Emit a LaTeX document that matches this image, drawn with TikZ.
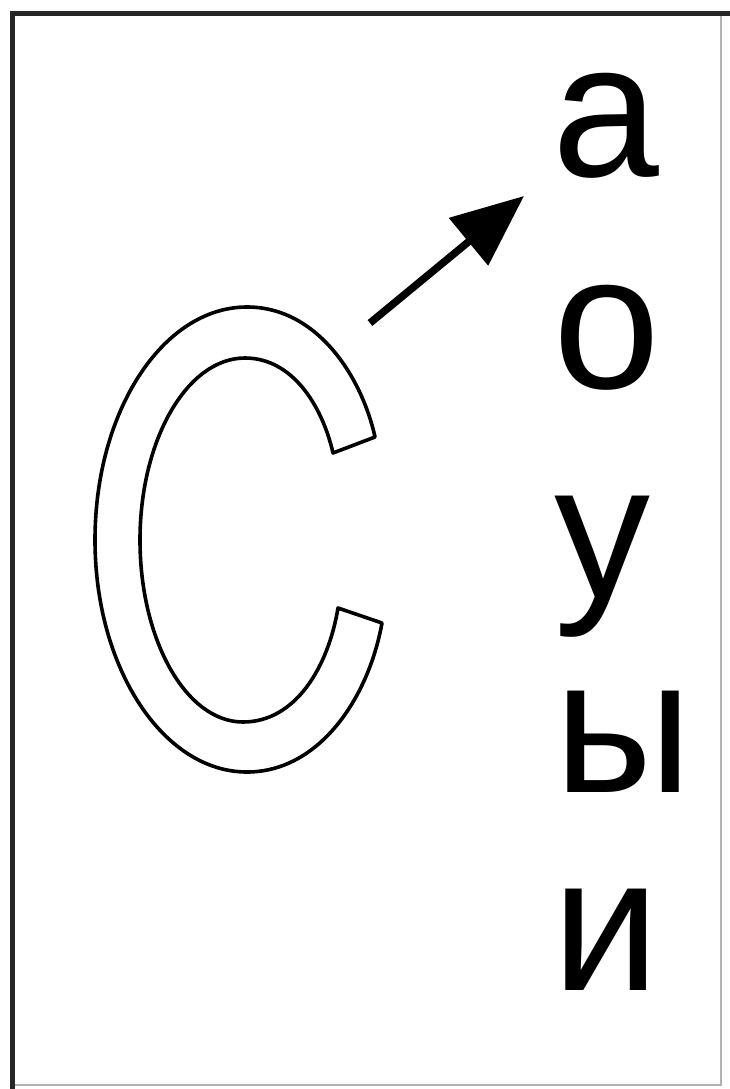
\documentclass[tikz,border=0pt]{standalone}
\usepackage{fontspec}
\setmainfont{Liberation Sans}
\usetikzlibrary{arrows.meta}
\begin{document}
\begin{tikzpicture}[x=1pt,y=-1pt,
  letter/.style={anchor=base,inner sep=0pt,font=\fontsize{192}{192}\selectfont},
  outline/.style={line width=3.6pt,line join=round},
  pointer/.style={line width=7.5pt,-{Triangle[length=72pt,width=60pt]}}]
\useasboundingbox (0,0) rectangle (730,1089);
\fill[white] (0,0) rectangle (730,1089);
% frame
\draw[line width=2pt,black!30] (12.5,1085) -- (721,1085) -- (721,13.5);
\draw[line width=4.5pt,black!85,line cap=rect] (12.5,1089) -- (12.5,13.5) -- (730,13.5);
% outlined C
\draw[outline] (375,437)
  .. controls (362,378) and (318,307) .. (247,307)
  .. controls (163,307) and (95,411) .. (95,540)
  .. controls (95,668) and (163,772) .. (247,772)
  .. controls (318,772) and (368,700) .. (382,623)
  -- (338,608)
  .. controls (328,668) and (295,722) .. (243,722)
  .. controls (186,722) and (140,640) .. (140,540)
  .. controls (140,440) and (187,358) .. (245,358)
  .. controls (292,358) and (322,405) .. (333,453)
  -- cycle;
% letters
\node[letter] (a) at (606,176) {а};
\node[letter] (o) at (607,388) {о};
\node[letter] (u) at (602,597) {у};
\node[letter] (y) at (623,792) {ы};
\node[letter] (i) at (606,990) {и};
% arrow
\coordinate (from) at (370,323);
\coordinate (to) at (524,196);
\draw[pointer] (from) -- (to);
\end{tikzpicture}
\end{document}
